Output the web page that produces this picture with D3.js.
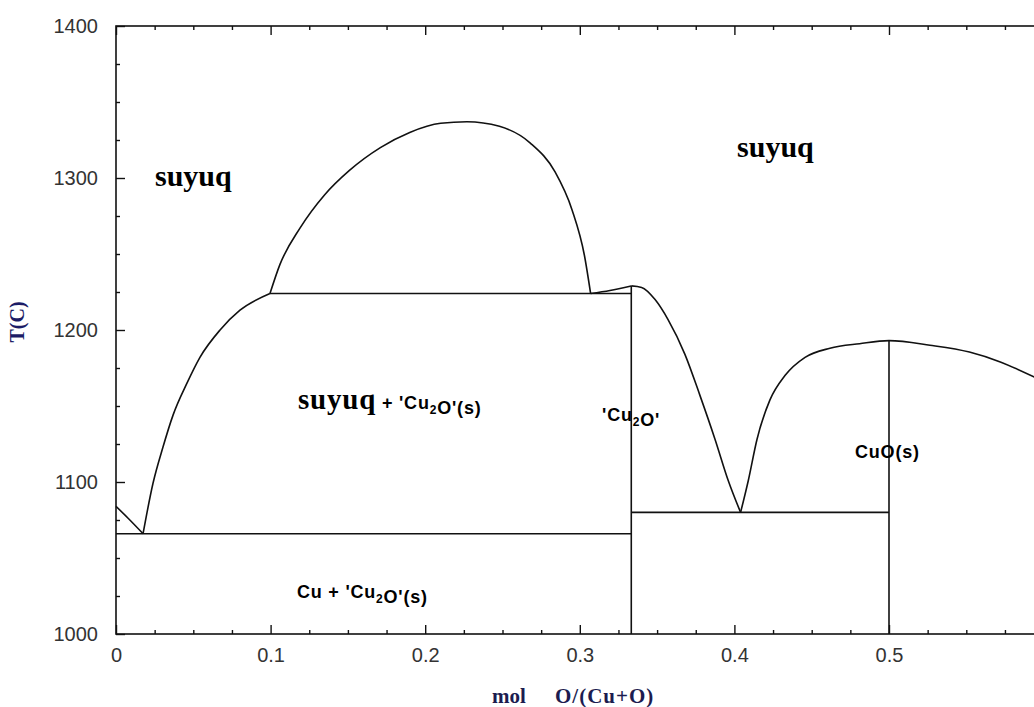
<!DOCTYPE html>
<html>
<head>
<meta charset="utf-8">
<script src="https://cdn.jsdelivr.net/npm/d3@7"></script>
<style>
  body { margin: 0; background: #fff; }
  svg { display: block; }
  .tick text { font-family: "Liberation Sans", Arial, sans-serif; font-size: 20px; fill: #333; }
  .tick line { stroke: #111; stroke-width: 1.4; }
  .domain { display: none; }
  .phase { fill: none; stroke: #111; stroke-width: 1.6; }
  .serif { font-family: "Liberation Serif", "Times New Roman", serif; font-weight: bold; }
  .sans { font-family: "Liberation Sans", Arial, sans-serif; font-weight: bold; letter-spacing: 0.8px; }
</style>
</head>
<body>
<div id="chart"></div>
<script>
var width = 1034,
    height = 707;

// axis ticks
var xMajor = [0, 0.1, 0.2, 0.3, 0.4, 0.5],
    xMinor = [0.025, 0.05, 0.075, 0.125, 0.15, 0.175, 0.225, 0.25, 0.275, 0.325, 0.35, 0.375, 0.425, 0.45, 0.475, 0.525, 0.55, 0.575],
    yMajor = [1000, 1100, 1200, 1300, 1400],
    yMinor = [1025, 1050, 1075, 1125, 1150, 1175, 1225, 1250, 1275, 1325, 1350, 1375];

// phase boundaries, [mol O/(Cu+O), T(C)]
var cuLiquidus = [[0, 1084], [0.008, 1076], [0.0175, 1066]];
var leftLiquidus = [[0.0175, 1066], [0.0239, 1099], [0.0304, 1123], [0.0369, 1144], [0.0459, 1165],
                    [0.0543, 1182], [0.0673, 1200], [0.0802, 1213], [0.0996, 1224]];
var miscGap = [[0.0996, 1224], [0.106, 1243], [0.119, 1267], [0.135, 1289], [0.151, 1305], [0.171, 1320],
               [0.19, 1330], [0.21, 1336], [0.227, 1337], [0.248, 1334], [0.268, 1323], [0.284, 1304],
               [0.295, 1279], [0.303, 1249], [0.307, 1224]];
var cu2oLiquidusLeft = [[0.307, 1224], [0.3195, 1226], [0.3333, 1229]];
var cu2oLiquidusRight = [[0.3333, 1229], [0.34, 1228], [0.3487, 1220], [0.357, 1207], [0.368, 1184],
                         [0.3777, 1157], [0.3875, 1128], [0.396, 1101], [0.404, 1080]];
var cuoLiquidus = [[0.404, 1080], [0.409, 1101], [0.4146, 1128], [0.423, 1154], [0.4327, 1170],
                   [0.4457, 1182], [0.4618, 1188], [0.481, 1191], [0.5, 1193], [0.5265, 1190],
                   [0.552, 1185.5], [0.572, 1179], [0.594, 1169], [0.6, 1166]];

// invariant lines
var monotectic = [[0.0996, 1224], [0.3333, 1224]];
var eutecticCu = [[0, 1066], [0.3333, 1066]];
var eutecticCuO = [[0.3333, 1080], [0.5, 1080]];
var cu2oLine = [[0.3333, 1000], [0.3333, 1229]];
var cuoLine = [[0.5, 1000], [0.5, 1193]];

var curves = [cuLiquidus, leftLiquidus, miscGap, cu2oLiquidusLeft, cu2oLiquidusRight, cuoLiquidus];
var tieLines = [monotectic, eutecticCu, eutecticCuO, cu2oLine, cuoLine];

var svg = d3.select("#chart")
            .append("svg")
              .attr("width", width)
              .attr("height", height);

var x = d3.scaleLinear()
          .domain([0, 0.6])
          .range([116, 116 + 0.6 * 1546]);

var y = d3.scaleLinear()
          .domain([1000, 1400])
          .range([634, 26]);

var x0 = x.range()[0], x1 = x.range()[1],
    y0 = y.range()[0], y1 = y.range()[1];

// ticks, all pointing inward
svg.append("g")
    .attr("transform", "translate(0," + y0 + ")")
    .call(d3.axisBottom(x).tickValues(xMajor).tickSizeInner(-9).tickSizeOuter(0).tickPadding(14)
            .tickFormat(function(d) { return d === 0 ? "0" : d3.format(".1f")(d); }));
svg.append("g")
    .attr("transform", "translate(0," + y0 + ")")
    .call(d3.axisBottom(x).tickValues(xMinor).tickSizeInner(-4).tickSizeOuter(0).tickFormat(""));
svg.append("g")
    .attr("transform", "translate(0," + y1 + ")")
    .call(d3.axisTop(x).tickValues(xMajor).tickSizeInner(-9).tickSizeOuter(0).tickFormat(""));
svg.append("g")
    .attr("transform", "translate(0," + y1 + ")")
    .call(d3.axisTop(x).tickValues(xMinor).tickSizeInner(-4).tickSizeOuter(0).tickFormat(""));

svg.append("g")
    .attr("transform", "translate(" + x0 + ",0)")
    .call(d3.axisLeft(y).tickValues(yMajor).tickSizeInner(-9).tickSizeOuter(0).tickPadding(18)
            .tickFormat(d3.format("d")));
svg.append("g")
    .attr("transform", "translate(" + x0 + ",0)")
    .call(d3.axisLeft(y).tickValues(yMinor).tickSizeInner(-4).tickSizeOuter(0).tickFormat(""));

// frame
svg.append("rect")
    .attr("x", x0)
    .attr("y", y1)
    .attr("width", x1 - x0)
    .attr("height", y0 - y1)
    .attr("fill", "none")
    .attr("stroke", "#111")
    .attr("stroke-width", 1.6);

// boundaries
var curveLine = d3.line()
                  .x(function(d) { return x(d[0]); })
                  .y(function(d) { return y(d[1]); })
                  .curve(d3.curveMonotoneX);

var straight = d3.line()
                 .x(function(d) { return x(d[0]); })
                 .y(function(d) { return y(d[1]); });

svg.selectAll(".curve")
    .data(curves)
  .enter().append("path")
    .attr("class", "phase curve")
    .attr("d", curveLine);

svg.selectAll(".tie")
    .data(tieLines)
  .enter().append("path")
    .attr("class", "phase tie")
    .attr("d", straight);

// region labels
var liquidName = "suyuq";

function solidLabel(g, parts) {
  parts.forEach(function(p) {
    if (p === "2") {
      g.append("tspan").attr("font-size", 12).attr("dy", 5).text("2");
      g.append("tspan").attr("dy", -5).text("");
    }
    else {
      g.append("tspan").text(p);
    }
  });
}

svg.append("text")
    .attr("class", "serif")
    .attr("x", x(0.0252)).attr("y", y(1295))
    .attr("font-size", 30)
    .text(liquidName);

svg.append("text")
    .attr("class", "serif")
    .attr("x", x(0.4017)).attr("y", y(1314))
    .attr("font-size", 30)
    .text(liquidName);

var mid = svg.append("text")
    .attr("x", x(0.1177)).attr("y", y(1148))
    .attr("class", "sans")
    .attr("font-size", 18);
mid.append("tspan").attr("class", "serif").attr("font-size", 29).text(liquidName);
solidLabel(mid, [" + 'Cu", "2", "O'(s)"]);

var cu2o = svg.append("text")
    .attr("class", "sans")
    .attr("x", x(0.3144)).attr("y", y(1140))
    .attr("font-size", 18);
solidLabel(cu2o, ["'Cu", "2", "O'"]);

svg.append("text")
    .attr("class", "sans")
    .attr("x", x(0.478)).attr("y", y(1116))
    .attr("font-size", 18)
    .text("CuO(s)");

var cuSolid = svg.append("text")
    .attr("class", "sans")
    .attr("x", x(0.117)).attr("y", y(1024))
    .attr("font-size", 18);
solidLabel(cuSolid, ["Cu + 'Cu", "2", "O'(s)"]);

// axis titles
svg.append("text")
    .attr("class", "serif")
    .attr("transform", "translate(24,322) rotate(-90)")
    .attr("text-anchor", "middle")
    .attr("font-size", 20)
    .attr("fill", "#1c1c66")
    .text("T(C)");

svg.append("text")
    .attr("class", "serif")
    .attr("x", 492).attr("y", 703)
    .attr("font-size", 21)
    .attr("fill", "#1c1c50")
    .text("mol");

svg.append("text")
    .attr("class", "serif")
    .attr("x", 555).attr("y", 703)
    .attr("font-size", 21)
    .attr("fill", "#1c1c50")
    .attr("letter-spacing", 1)
    .text("O/(Cu+O)");
</script>
</body>
</html>
